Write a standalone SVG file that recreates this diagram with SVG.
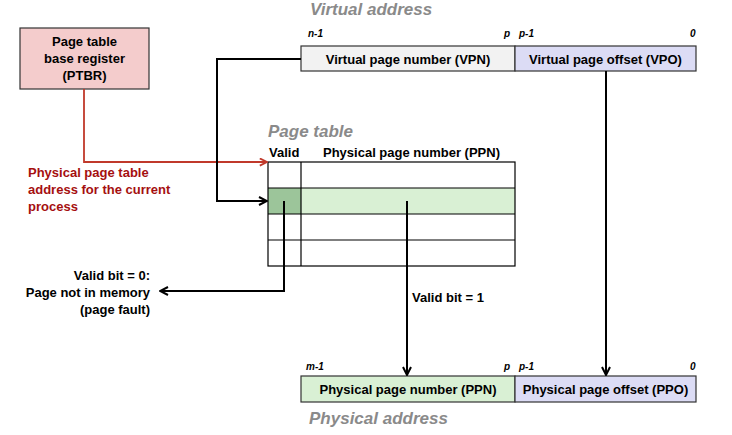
<svg xmlns="http://www.w3.org/2000/svg" width="732" height="435" viewBox="0 0 732 435">
<style>
text{font-family:"Liberation Sans",Arial,sans-serif;font-weight:bold;font-size:13px;fill:#000}
.t{font-size:17px;font-style:italic;fill:#8a8a8a}
.b{font-size:10px;font-style:italic}
.bar{font-size:13px}
.red{fill:#a50f0f}
.box{stroke:#333;stroke-width:1.2}
.c{stroke:#000;stroke-width:2;fill:none}
.cell{fill:none;stroke:#000;stroke-width:1.2}
</style>
<defs>
<marker id="ah" viewBox="0 0 10 10" refX="9" refY="5" markerWidth="5" markerHeight="5" orient="auto"><path d="M1,1 L9,5 L1,9" fill="none" stroke="#000" stroke-width="2"/></marker>
<marker id="ahr" viewBox="0 0 10 10" refX="9" refY="5" markerWidth="5" markerHeight="5" orient="auto"><path d="M1,1 L9,5 L1,9" fill="none" stroke="#c0392b" stroke-width="2"/></marker>
</defs>
<g id="ptbr">
<rect class="box" x="20" y="28" width="129" height="61" fill="#f4cccc"/>
<text x="84.5" y="46" text-anchor="middle">Page table</text>
<text x="84.5" y="63" text-anchor="middle">base register</text>
<text x="84.5" y="80" text-anchor="middle">(PTBR)</text>
</g>
<g id="virtual-address">
<text class="t" x="310" y="15">Virtual address</text>
<text class="b" x="308" y="37">n-1</text>
<text class="b" x="504" y="37">p</text>
<text class="b" x="519" y="37">p-1</text>
<text class="b" x="690" y="37">0</text>
<rect class="box" x="301" y="46" width="214" height="25" fill="#f2f2f2"/>
<rect class="box" x="515" y="46" width="181" height="25" fill="#dcdcf5"/>
<text class="bar" x="408" y="63.5" text-anchor="middle">Virtual page number (VPN)</text>
<text class="bar" x="605.5" y="63.5" text-anchor="middle">Virtual page offset (VPO)</text>
</g>
<g id="page-table">
<text class="t" x="268" y="137">Page table</text>
<text x="269" y="157">Valid</text>
<text x="323" y="157">Physical page number (PPN)</text>
<rect x="268" y="188" width="33" height="26" fill="#9cc59a"/>
<rect x="301" y="188" width="214" height="26" fill="#d9f0d4"/>
<rect class="cell" x="268" y="162" width="247" height="104"/>
<line class="cell" x1="301" y1="162" x2="301" y2="266"/>
<line class="cell" x1="268" y1="188" x2="515" y2="188"/>
<line class="cell" x1="268" y1="214" x2="515" y2="214"/>
<line class="cell" x1="268" y1="240" x2="515" y2="240"/>
</g>
<g id="labels">
<text class="red" x="28" y="177">Physical page table</text>
<text class="red" x="28" y="194">address for the current</text>
<text class="red" x="28" y="211">process</text>
<text x="150" y="280" text-anchor="end">Valid bit = 0:</text>
<text x="150" y="297" text-anchor="end">Page not in memory</text>
<text x="150" y="314" text-anchor="end">(page fault)</text>
<text x="412" y="302">Valid bit = 1</text>
</g>
<g id="physical-address">
<text class="b" x="306" y="370">m-1</text>
<text class="b" x="504" y="370">p</text>
<text class="b" x="519" y="370">p-1</text>
<text class="b" x="690" y="370">0</text>
<rect class="box" x="301" y="376" width="214" height="26" fill="#d9f0d4"/>
<rect class="box" x="515" y="376" width="181" height="26" fill="#dcdcf5"/>
<text class="bar" x="408" y="393.5" text-anchor="middle">Physical page number (PPN)</text>
<text class="bar" x="605.5" y="393.5" text-anchor="middle">Physical page offset (PPO)</text>
<text class="t" x="309" y="424">Physical address</text>
</g>
<g id="connectors">
<path d="M84,89 V162 H267" fill="none" stroke="#c0392b" stroke-width="1.8" marker-end="url(#ahr)"/>
<path class="c" d="M301,59 H217 V201 H267" marker-end="url(#ah)"/>
<path class="c" d="M284,201 V291 H160" marker-end="url(#ah)"/>
<path class="c" d="M407,201 V375" marker-end="url(#ah)"/>
<path class="c" d="M606,71 V375" marker-end="url(#ah)"/>
</g>
</svg>
